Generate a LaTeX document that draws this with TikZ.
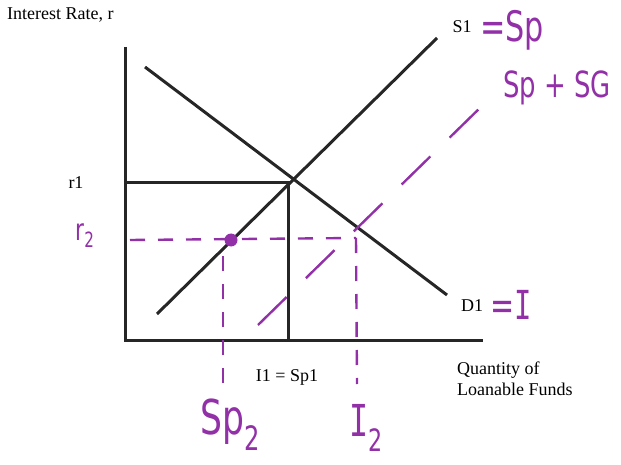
\documentclass[tikz,border=0pt]{standalone}
\usepackage{fontspec}
\setmainfont{Liberation Serif}
\newfontfamily\handfont{DejaVu Sans}
\newfontfamily\handmono{DejaVu Sans Mono}
\usepackage{xcolor}
\usepackage{tikz}
\usetikzlibrary{positioning}
\definecolor{pen}{RGB}{146,48,168}
\newcommand{\handsz}[1]{\handfont\fontsize{#1}{#1}\selectfont}
\newcommand{\capI}{{\handmono I}}

\begin{document}
\begin{tikzpicture}[x=1pt,y=-1pt,
  curve/.style={line width=3pt, black!85},
  guide/.style={line width=2.4pt, pen, dash pattern=on 15pt off 13pt},
  lbl/.style={font=\fontsize{18}{21}\selectfont, inner sep=0pt},
  hand/.style={inner sep=0pt, text=pen, xscale=0.72, transform shape}]
  \useasboundingbox (0,0) rectangle (621,465);
  % axes and curves
  \coordinate (top) at (125,47);
  \coordinate (O) at (125,340);
  \coordinate (xend) at (483,340);
  \coordinate (s1lo) at (157,314);
  \coordinate (s1hi) at (437,38);
  \coordinate (d1hi) at (145,67);
  \coordinate (d1lo) at (447,295);
  \coordinate (E) at (288,183);
  \coordinate (r1) at (125,183);
  \coordinate (Ebase) at (288,342);
  \draw[curve] (top) -- (O) -- (xend);
  \draw[curve] (s1lo) -- (s1hi);
  \draw[curve] (d1hi) -- (d1lo);
  \draw[curve] (r1) -- (E) -- (Ebase);
  % black labels
  \node[lbl, anchor=west] (ylab) at (7,15) {Interest Rate, r};
  \node[lbl] (r1lab) at (76,183) {r1};
  \node[lbl] (s1lab) at (462,27) {S1};
  \node[lbl] (d1lab) at (472,306) {D1};
  \node[lbl] (eqlab) at (287,377) {I1 = Sp1};
  \node[lbl, align=left, anchor=north west] (xlab) at (457,362) {Quantity of\\Loanable Funds};
  % handwritten additions
  \coordinate (r2l) at (130,240);
  \coordinate (A) at (231,240);
  \coordinate (B) at (356,238);
  \coordinate (Alo) at (223,392);
  \coordinate (Blo) at (357,384);
  \coordinate (spglo) at (258,325);
  \coordinate (spghi) at (485,103);
  \draw[guide] (r2l) -- (B);
  \draw[guide] (A) ++(-8,16) -- (Alo);
  \draw[guide] (B) -- (Blo);
  \draw[guide, dash pattern=on 40pt off 27pt] (spglo) -- (spghi);
  \fill[pen] (A) circle (6.5);
  \node[hand, anchor=west, font=\handsz{42}] (sp) at (480,30) {=Sp};
  \node[hand, anchor=west, font=\handsz{36}] (spsg) at (503,88) {Sp + SG};
  \node[hand, anchor=west, font=\handsz{40}] (ieq) at (490,305) {=\capI};
  \node[hand, font=\handsz{30}] (r2) at (85,236) {r\textsubscript{2}};
  \node[hand, font=\handsz{48}] (sp2) at (230,425) {Sp\textsubscript{2}};
  \node[hand, font=\handsz{44}] (i2) at (366,428) {\capI\textsubscript{2}};
\end{tikzpicture}
\end{document}
